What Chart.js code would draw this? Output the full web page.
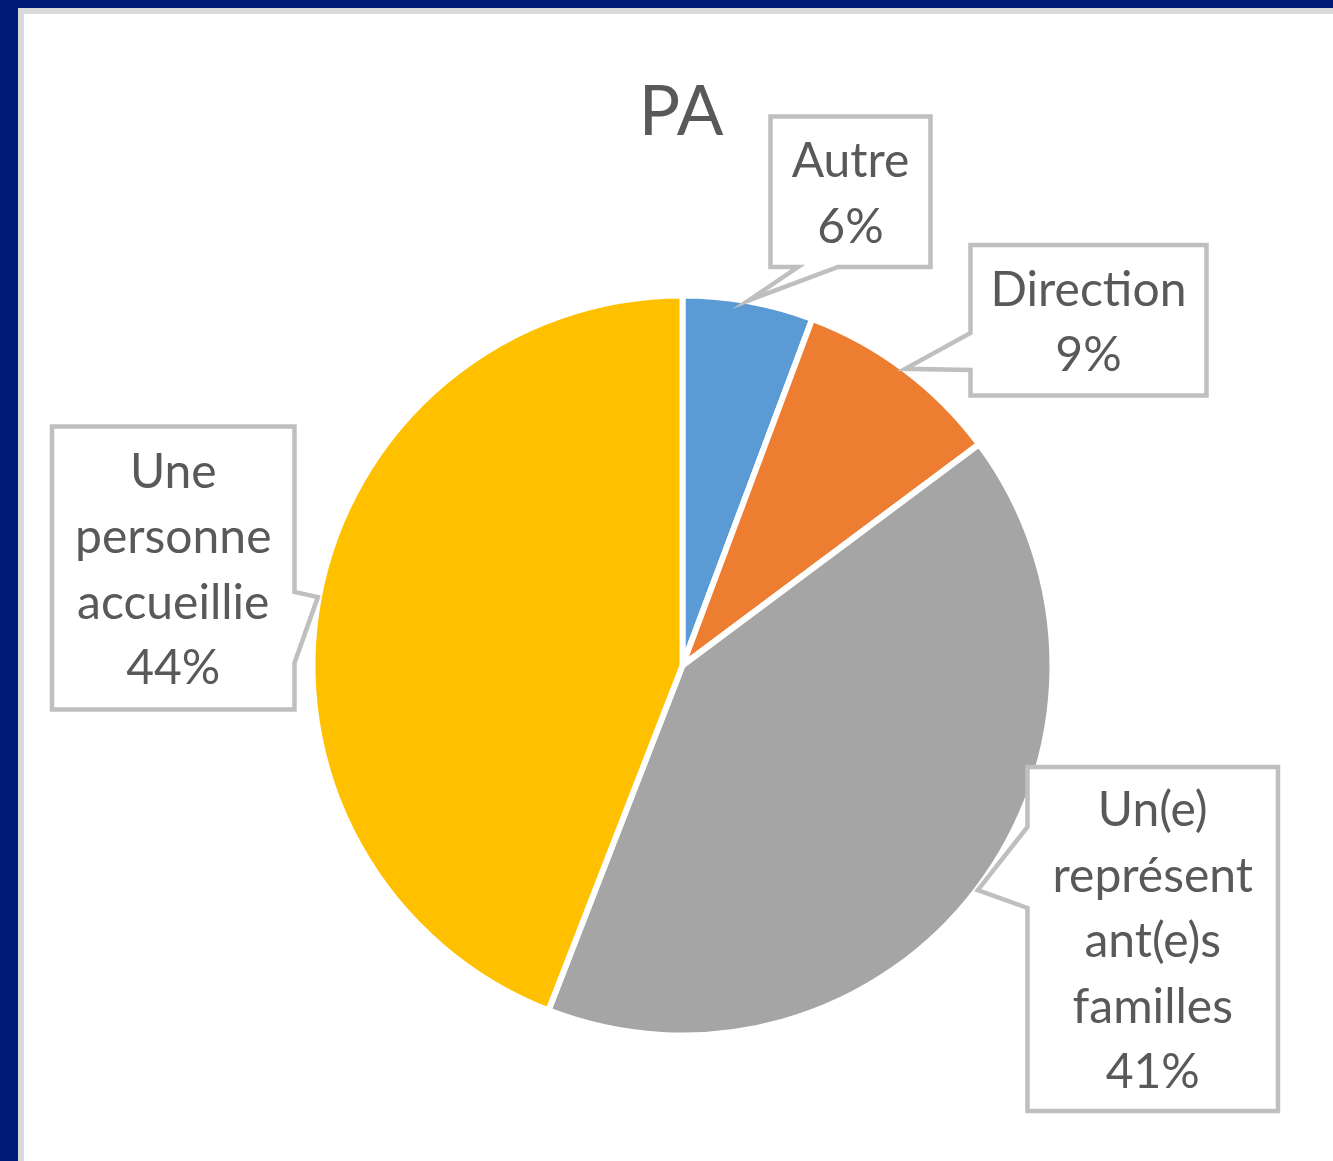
<!DOCTYPE html>
<html lang="fr">
<head>
<meta charset="utf-8">
<title>PA</title>
<script src="https://cdn.jsdelivr.net/npm/chart.js@4.4.1/dist/chart.umd.min.js"></script>
<style>
    html, body { margin: 0; padding: 0; background: #ffffff; }
    #wrap { position: relative; width: 1333px; height: 1161px; overflow: hidden; }
    #frame {
        position: absolute; left: 0; top: 0; right: 0; bottom: 0;
        border-top: 8px solid #001a77; border-left: 18px solid #001a77;
        pointer-events: none;
    }
    #frame-inner {
        position: absolute; left: 0; top: 0; right: 0; bottom: 0;
        border-top: 6px solid #d9d9d9; border-left: 6px solid #d9d9d9;
    }
</style>
</head>
<body>
<div id="wrap">
    <canvas id="pieChart"></canvas>
    <div id="frame"><div id="frame-inner"></div></div>
</div>
<script>
// Chart data
const chartTitle = "PA";
const categories = ["Autre", "Direction", "Un(e) représentant(e)s familles", "Une personne accueillie"];
// label text as Excel wrapped it inside the callouts
const labelLines = [
    ["Autre"],
    ["Direction"],
    ["Un(e)", "représent", "ant(e)s", "familles"],
    ["Une", "personne", "accueillie"]
];
const values = [5.7, 9.1, 41.1, 44.1];
const colors = ["#5B9BD5", "#ED7D31", "#A5A5A5", "#FFC000"];

// Callout boxes (layout): box rect + where the pointer leaves the box
const callouts = [
    { x1: 770.5, y1: 116.5, x2: 930.5, y2: 267, side: "bottom", a: 798, b: 838 },
    { x1: 970.5, y1: 245, x2: 1206.5, y2: 395.5, side: "left", a: 333, b: 370 },
    { x1: 1027.5, y1: 767, x2: 1278, y2: 1111, side: "left", a: 827, b: 908 },
    { x1: 52, y1: 426.5, x2: 294.5, y2: 709.5, side: "right", a: 592, b: 663 }
];

const FONT = "Lato, 'Open Sans', sans-serif";
const TEXT_COLOR = "#595959";
const LINE_H = 65.5;

// Draw title + callout labels
const calloutPlugin = {
    id: "callouts",
    afterDraw(chart) {
        const ctx = chart.ctx;
        const meta = chart.getDatasetMeta(0);
        const total = values.reduce((s, v) => s + v, 0);

        ctx.save();
        ctx.fillStyle = TEXT_COLOR;
        ctx.textAlign = "center";
        ctx.textBaseline = "alphabetic";
        ctx.font = "69px " + FONT;
        ctx.fillText(chartTitle, 681, 135);

        meta.data.forEach((arc, i) => {
            const box = callouts[i];
            const mid = (arc.startAngle + arc.endAngle) / 2;
            const r = arc.outerRadius + 1;
            const tx = arc.x + Math.cos(mid) * r;
            const ty = arc.y + Math.sin(mid) * r;

            // box outline with wedge pointer
            ctx.beginPath();
            ctx.moveTo(box.x1, box.y1);
            ctx.lineTo(box.x2, box.y1);
            if (box.side === "right") {
                ctx.lineTo(box.x2, box.a);
                ctx.lineTo(tx, ty);
                ctx.lineTo(box.x2, box.b);
            }
            ctx.lineTo(box.x2, box.y2);
            if (box.side === "bottom") {
                ctx.lineTo(box.b, box.y2);
                ctx.lineTo(tx, ty);
                ctx.lineTo(box.a, box.y2);
            }
            ctx.lineTo(box.x1, box.y2);
            if (box.side === "left") {
                ctx.lineTo(box.x1, box.b);
                ctx.lineTo(tx, ty);
                ctx.lineTo(box.x1, box.a);
            }
            ctx.closePath();
            ctx.fillStyle = "#ffffff";
            ctx.fill();
            ctx.lineWidth = 4.5;
            ctx.strokeStyle = "#bfbfbf";
            ctx.lineJoin = "miter";
            ctx.stroke();

            // text
            const lines = labelLines[i].concat([Math.round(values[i] / total * 100) + "%"]);
            const cx = (box.x1 + box.x2) / 2;
            const cy = (box.y1 + box.y2) / 2;
            let y = cy + 18 - (lines.length - 1) * LINE_H / 2;
            ctx.fillStyle = TEXT_COLOR;
            ctx.font = "48px " + FONT;
            lines.forEach(line => {
                ctx.fillText(line, cx, y);
                y += LINE_H;
            });
        });
        ctx.restore();
    }
};

const ctx = document.getElementById("pieChart").getContext("2d");
window.pieChart = new Chart(ctx, {
    type: "pie",
    data: {
        labels: categories,
        datasets: [{
            data: values,
            backgroundColor: colors,
            borderColor: "#ffffff",
            borderWidth: 6
        }]
    },
    options: {
        responsive: true,
        maintainAspectRatio: false,
        animation: false,
        layout: {
            padding: { left: 309.5, top: 292.5, right: 277.5, bottom: 122.5 }
        },
        plugins: {
            legend: { display: false },
            tooltip: { enabled: false }
        }
    },
    plugins: [calloutPlugin]
});
</script>
</body>
</html>
